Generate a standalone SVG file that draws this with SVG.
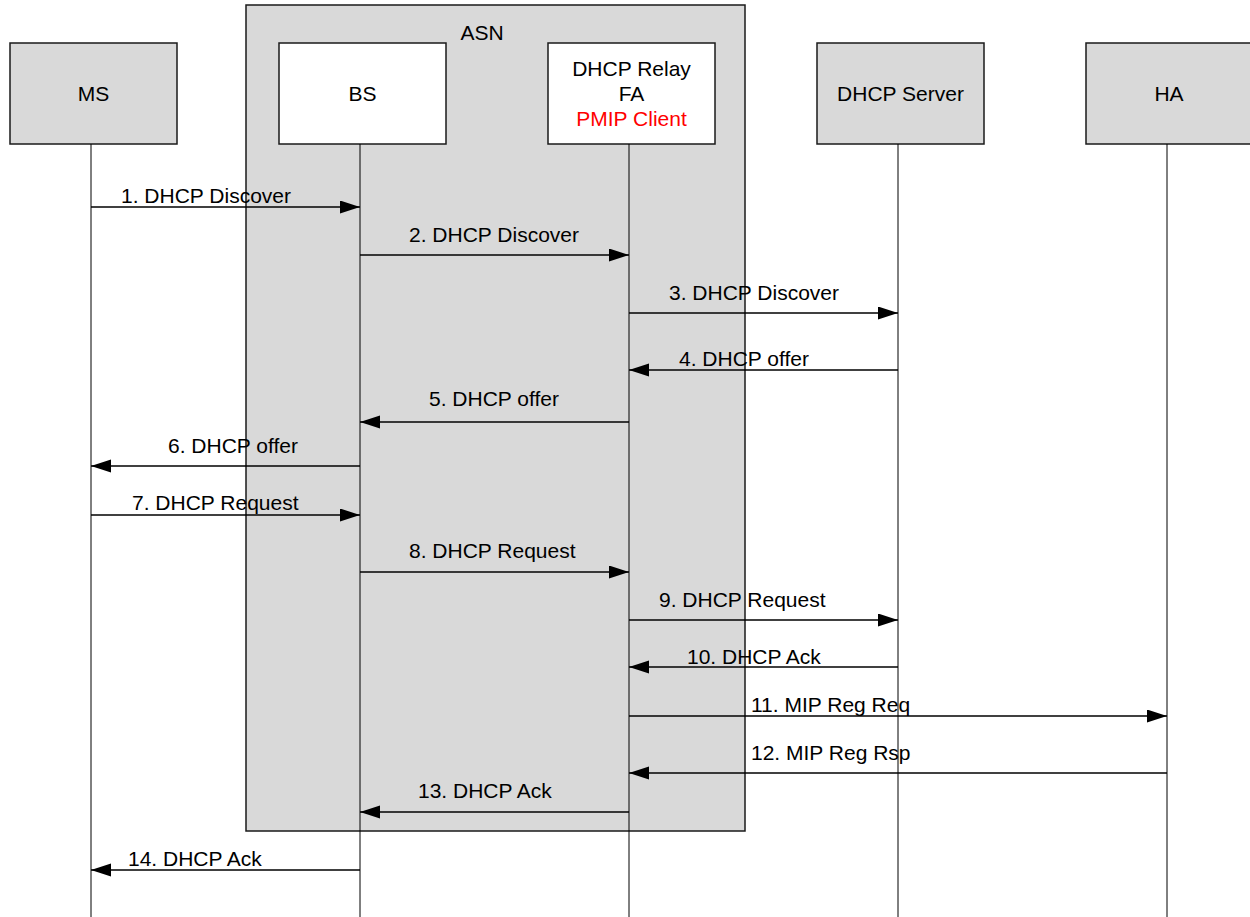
<svg xmlns="http://www.w3.org/2000/svg" width="1250" height="917" viewBox="0 0 1250 917">
<style>
.box{stroke:#1a1a1a;stroke-width:1.5}
.grey{fill:#d9d9d9}
.white{fill:#ffffff}
.life{stroke:#000;stroke-width:1;fill:none}
.msg{stroke:#000;stroke-width:1.5;fill:none;marker-end:url(#ah)}
text{font-family:"Liberation Sans",Arial,sans-serif;font-size:21px;fill:#000}
.c{text-anchor:middle}
.red{fill:#ff0000}
</style>
<defs>
<marker id="ah" markerUnits="userSpaceOnUse" markerWidth="22" markerHeight="16" refX="20" refY="6.5" orient="auto">
<path d="M0,0 L20,6.5 L0,13 z" fill="#000"/>
</marker>
</defs>
<rect width="1250" height="917" fill="#ffffff"/>
<g id="ASN">
<rect class="box grey" x="246" y="5" width="499" height="826"/>
<text class="c" x="482" y="40">ASN</text>
</g>
<g id="MS">
<rect class="box grey" x="10" y="43" width="167" height="101"/>
<text class="c" x="93.5" y="101">MS</text>
<line class="life" x1="91" y1="144" x2="91" y2="917"/>
</g>
<g id="BS">
<rect class="box white" x="279" y="43" width="167" height="101"/>
<text class="c" x="362.5" y="101">BS</text>
<line class="life" x1="360" y1="144" x2="360" y2="917"/>
</g>
<g id="Relay">
<rect class="box white" x="548" y="43" width="167" height="101"/>
<text class="c" x="631.5" y="76">DHCP Relay</text>
<text class="c" x="631.5" y="101">FA</text>
<text class="c red" x="631.5" y="126">PMIP Client</text>
<line class="life" x1="629" y1="144" x2="629" y2="917"/>
</g>
<g id="Server">
<rect class="box grey" x="817" y="43" width="167" height="101"/>
<text class="c" x="900.5" y="101">DHCP Server</text>
<line class="life" x1="898" y1="144" x2="898" y2="917"/>
</g>
<g id="HA">
<rect class="box grey" x="1086" y="43" width="167" height="101"/>
<text class="c" x="1169" y="101">HA</text>
<line class="life" x1="1167" y1="144" x2="1167" y2="917"/>
</g>
<g id="connectors">
<line class="msg" x1="91" y1="207" x2="360" y2="207"/>
<line class="msg" x1="360" y1="255" x2="629" y2="255"/>
<line class="msg" x1="629" y1="313" x2="898" y2="313"/>
<line class="msg" x1="898" y1="370" x2="629" y2="370"/>
<line class="msg" x1="629" y1="422" x2="360" y2="422"/>
<line class="msg" x1="360" y1="466" x2="91" y2="466"/>
<line class="msg" x1="91" y1="515" x2="360" y2="515"/>
<line class="msg" x1="360" y1="572" x2="629" y2="572"/>
<line class="msg" x1="629" y1="620" x2="898" y2="620"/>
<line class="msg" x1="898" y1="667" x2="629" y2="667"/>
<line class="msg" x1="629" y1="716" x2="1167" y2="716"/>
<line class="msg" x1="1167" y1="773" x2="629" y2="773"/>
<line class="msg" x1="629" y1="812" x2="360" y2="812"/>
<line class="msg" x1="360" y1="870" x2="91" y2="870"/>
</g>
<g id="labels">
<text x="121" y="203">1. DHCP Discover</text>
<text x="409" y="242">2. DHCP Discover</text>
<text x="669" y="300">3. DHCP Discover</text>
<text x="679" y="366">4. DHCP offer</text>
<text x="429" y="406">5. DHCP offer</text>
<text x="168" y="453">6. DHCP offer</text>
<text x="132" y="510">7. DHCP Request</text>
<text x="409" y="558">8. DHCP Request</text>
<text x="659" y="607">9. DHCP Request</text>
<text x="687" y="664">10. DHCP Ack</text>
<text x="751" y="712">11. MIP Reg Req</text>
<text x="751" y="760">12. MIP Reg Rsp</text>
<text x="418" y="798">13. DHCP Ack</text>
<text x="128" y="866">14. DHCP Ack</text>
</g>
</svg>
